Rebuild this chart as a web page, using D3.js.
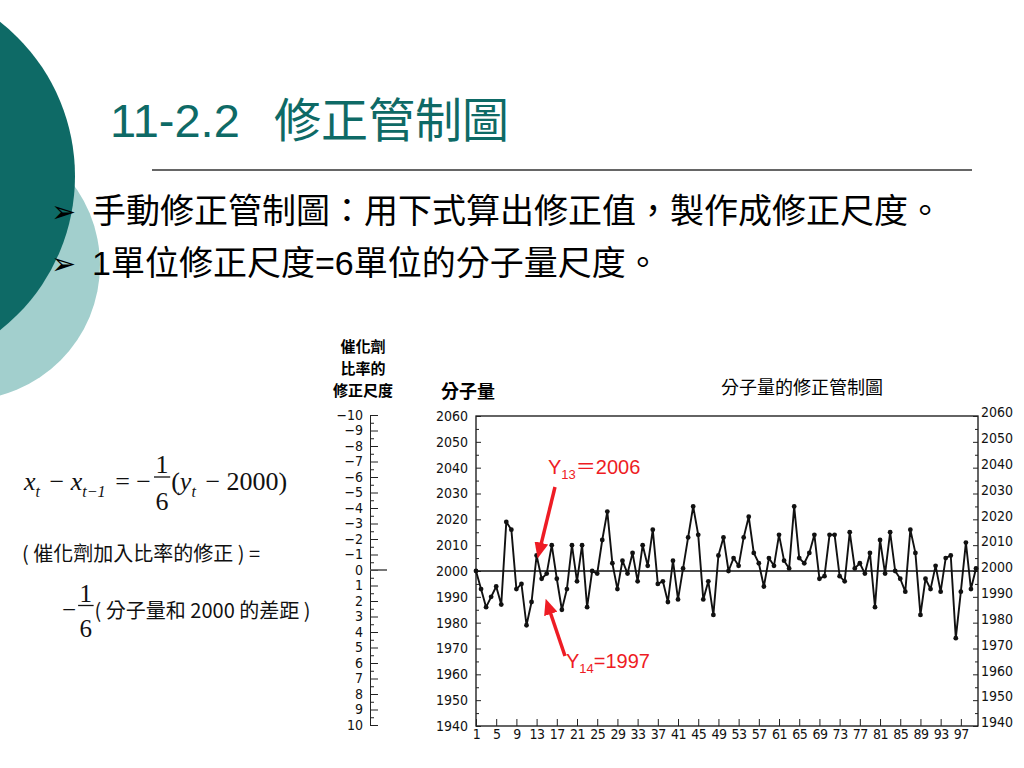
<!DOCTYPE html>
<html>
<head>
<meta charset="utf-8">
<script src="https://cdn.jsdelivr.net/npm/d3@7"></script>
<style>
  body { margin: 0; background: #fff; }
  svg { display: block; font-family: 'Liberation Sans', Arial, sans-serif; }
  text { white-space: pre; }
</style>
</head>
<body>
<svg id="slide" width="1024" height="768"></svg>
<script>
// molecular weight, samples 1..100
const molecularWeight = [
    2000, 1993, 1986, 1990, 1994, 1987, 2019, 2016, 1993, 1995,
    1979, 1988, 2006, 1997, 1999, 2010, 1997, 1985, 1993, 2010,
    1996, 2010, 1986, 2000, 1999, 2012, 2023, 2003, 1993, 2004,
    1999, 2007, 1996, 2010, 2002, 2016, 1995, 1996, 1988, 2004,
    1989, 2001, 2013, 2025, 2014, 1989, 1996, 1983, 2006, 2013,
    2000, 2005, 2002, 2013, 2021, 2007, 2003, 1994, 2005, 2002,
    2014, 2004, 2001, 2025, 2005, 2003, 2007, 2014, 1997, 1998,
    2014, 2014, 1998, 1996, 2015, 2001, 2003, 1999, 2007, 1986,
    2012, 1999, 2015, 2000, 1997, 1992, 2016, 2007, 1983, 1997,
    1993, 2002, 1992, 2005, 2006, 1974, 1992, 2011, 1993, 2001
];
const target = 2000;

const sampleTicks = [1, 5, 9, 13, 17, 21, 25, 29, 33, 37, 41, 45, 49, 53, 57, 61, 65, 69, 73, 77, 81, 85, 89, 93, 97];
const weightTicks = [1940, 1950, 1960, 1970, 1980, 1990, 2000, 2010, 2020, 2030, 2040, 2050, 2060];
const weightMinor = [1945, 1955, 1965, 1975, 1985, 1995, 2005, 2015, 2025, 2035, 2045, 2055];
const adjustTicks = [-10, -9, -8, -7, -6, -5, -4, -3, -2, -1, 0, 1, 2, 3, 4, 5, 6, 7, 8, 9, 10];
const adjustMinor = [-9.5, -8.5, -7.5, -6.5, -5.5, -4.5, -3.5, -2.5, -1.5, -0.5, 0.5, 1.5, 2.5, 3.5, 4.5, 5.5, 6.5, 7.5, 8.5, 9.5];

const teal = '#0e6a66';
const red = '#ee1c24';
const cjk = "'Noto Sans CJK TC', sans-serif";

/* ===== chart config ===== */
const chart = {
    left: 476,
    right: 978,
    top: 416,
    bottom: 726,
    adjustAxisX: 370,

    x: d3.scaleLinear(),
    y: d3.scaleLinear(),
    adj: d3.scaleLinear()
};
chart.x.domain([1, 100]).range([476, 976]);
chart.y.domain([1940, 2060]).range([chart.bottom, chart.top]);
chart.adj.domain([-10, 10]).range([415, 725]);

const svg = d3.select('#slide');

/* ===== slide decoration ===== */
svg.append('circle').attr('cx', -35).attr('cy', 265).attr('r', 135).attr('fill', '#a2cfcd');
svg.append('circle').attr('cx', -121).attr('cy', 176).attr('r', 196).attr('fill', teal);

const title = svg.append('text')
    .attr('y', 137)
    .attr('fill', teal)
    .style('font-size', '47px');
title.append('tspan').attr('x', 110).text('11-2.2');
title.append('tspan').attr('x', 274).style('font-family', cjk).text('修正管制圖');

svg.append('line')
    .attr('x1', 152).attr('x2', 972)
    .attr('y1', 170).attr('y2', 170)
    .attr('stroke', '#333').attr('stroke-width', 1.5);

const bullets = [
    '手動修正管制圖：用下式算出修正值，製作成修正尺度。',
    '1單位修正尺度=6單位的分子量尺度。'
];
bullets.forEach((b, i) => {
    svg.append('text')
        .attr('x', 51).attr('y', 222 + i * 52)
        .style('font-family', "'DejaVu Sans'")
        .style('font-size', '30px')
        .text('➢');
    svg.append('text')
        .attr('x', 92).attr('y', 223 + i * 52)
        .style('font-family', "'Liberation Sans', 'Noto Sans CJK TC', sans-serif")
        .style('font-size', '34px')
        .text(b);
});

/* ===== formula on the left ===== */
function typeset(g, x0, base, parts, size) {
    let x = x0;
    parts.forEach(p => {
        if (p.frac) {
            const w = size * 0.7;
            const cx = x + w / 2;
            g.append('text').attr('x', cx).attr('y', base - size * 0.66)
                .attr('text-anchor', 'middle').style('font-size', size + 'px').text(p.frac[0]);
            g.append('line')
                .attr('x1', x + 1).attr('x2', x + w - 1)
                .attr('y1', base - size * 0.5).attr('y2', base - size * 0.5)
                .attr('stroke', '#111').attr('stroke-width', 1.3);
            g.append('text').attr('x', cx).attr('y', base + size * 0.75)
                .attr('text-anchor', 'middle').style('font-size', size + 'px').text(p.frac[1]);
            x += w;
            return;
        }
        const t = g.append('text')
            .attr('x', x)
            .attr('y', base + (p.sub ? size * 0.25 : 0))
            .style('font-size', (p.sub ? size * 0.62 : (p.size || size)) + 'px')
            .style('font-style', p.it ? 'italic' : 'normal')
            .text(p.t);
        if (p.cjk) t.style('font-family', cjk);
        x += t.node().getComputedTextLength() + (p.gap || 0);
    });
    return x;
}

const formula = svg.append('g')
    .style('font-family', "'Liberation Serif', 'Times New Roman', serif")
    .attr('fill', '#111');

typeset(formula, 24, 490, [
    { t: 'x', it: true }, { t: 't', it: true, sub: true, gap: 3 },
    { t: ' − ' }, { t: 'x', it: true }, { t: 't−1', it: true, sub: true, gap: 3 },
    { t: ' = −', gap: 2 }, { frac: ['1', '6'] },
    { t: '(' }, { t: 'y', it: true }, { t: 't', it: true, sub: true, gap: 3 },
    { t: ' − 2000)' }
], 26);

typeset(formula, 22, 561, [
    { t: '( 催化劑加入比率的修正 ) =', cjk: true, size: 20 }
], 20);

typeset(formula, 62, 618, [
    { t: '−', gap: 1 }, { frac: ['1', '6'] },
    { t: '( 分子量和 2000 的差距 )', cjk: true, size: 20 }
], 25);

/* ===== adjustment scale (catalyst) ===== */
const adjG = svg.append('g').attr('transform', `translate(${chart.adjustAxisX},0)`);
adjG.call(d3.axisLeft(chart.adj).tickValues(adjustTicks).tickSize(-8).tickSizeOuter(0).tickPadding(7));
adjG.append('g')
    .call(d3.axisLeft(chart.adj).tickValues(adjustMinor).tickSize(-4).tickSizeOuter(0).tickFormat(''))
    .call(g => g.select('.domain').remove());
adjG.append('line')
    .attr('x1', 0).attr('x2', 17)
    .attr('y1', chart.adj(0)).attr('y2', chart.adj(0))
    .attr('stroke', '#555').attr('stroke-width', 1.6);

const header = ['催化劑', '比率的', '修正尺度'];
header.forEach((h, i) => {
    svg.append('text')
        .attr('x', 363).attr('y', 352 + i * 22)
        .attr('text-anchor', 'middle')
        .style('font-family', cjk)
        .style('font-size', '15px')
        .style('font-weight', 'bold')
        .text(h);
});

/* ===== molecular weight chart ===== */
const g = svg.append('g');
const fmt = d3.format('d');

g.append('rect')
    .attr('x', chart.left).attr('y', chart.top)
    .attr('width', chart.right - chart.left).attr('height', chart.bottom - chart.top)
    .attr('fill', 'none').attr('stroke', '#111').attr('stroke-width', 1.3);

g.append('g')
    .attr('transform', `translate(${chart.left},0)`)
    .call(d3.axisLeft(chart.y).tickValues(weightTicks).tickFormat(fmt).tickSize(-5).tickSizeOuter(0).tickPadding(8))
    .call(g => g.select('.domain').remove());
g.append('g')
    .attr('transform', `translate(${chart.left},0)`)
    .call(d3.axisLeft(chart.y).tickValues(weightMinor).tickSize(-3).tickSizeOuter(0).tickFormat(''))
    .call(g => g.select('.domain').remove());

g.append('g')
    .attr('class', 'right-axis')
    .attr('transform', `translate(${chart.right},0)`)
    .call(d3.axisRight(chart.y).tickValues(weightTicks).tickFormat(fmt).tickSize(-5).tickSizeOuter(0).tickPadding(3))
    .call(g => g.select('.domain').remove())
    .call(g => g.selectAll('text').attr('dy', '0.05em'));
g.append('g')
    .attr('transform', `translate(${chart.right},0)`)
    .call(d3.axisRight(chart.y).tickValues(weightMinor).tickSize(-3).tickSizeOuter(0).tickFormat(''))
    .call(g => g.select('.domain').remove());

g.append('g')
    .attr('transform', `translate(0,${chart.bottom})`)
    .call(d3.axisBottom(chart.x).tickValues(sampleTicks).tickFormat(fmt).tickSize(-7).tickSizeOuter(0).tickPadding(3))
    .call(g => g.select('.domain').remove())
    .call(g => g.selectAll('text').attr('letter-spacing', '-0.5px'));

// axis text look
svg.selectAll('.tick text')
    .attr('fill', '#111')
    .style('font-family', "'DejaVu Sans Condensed', 'DejaVu Sans', sans-serif")
    .style('font-size', '14px');
svg.selectAll('.tick line').attr('stroke', '#222');
adjG.select('.domain').attr('stroke', '#222');

svg.append('text')
    .attr('x', 441).attr('y', 398)
    .style('font-family', cjk).style('font-size', '18px').style('font-weight', 'bold')
    .text('分子量');
svg.append('text')
    .attr('x', 802).attr('y', 394)
    .attr('text-anchor', 'middle')
    .style('font-family', cjk).style('font-size', '18px')
    .text('分子量的修正管制圖');

// target line
g.append('line')
    .attr('x1', chart.left).attr('x2', chart.right)
    .attr('y1', chart.y(target)).attr('y2', chart.y(target))
    .attr('stroke', '#111').attr('stroke-width', 1.6);

const line = d3.line()
    .x((d, i) => chart.x(i + 1))
    .y(d => chart.y(d));

g.append('path')
    .datum(molecularWeight)
    .attr('d', line)
    .attr('fill', 'none')
    .attr('stroke', '#111')
    .attr('stroke-width', 1.9)
    .attr('stroke-linejoin', 'round');

g.selectAll('.pt')
    .data(molecularWeight)
    .enter().append('circle')
    .attr('class', 'pt')
    .attr('cx', (d, i) => chart.x(i + 1))
    .attr('cy', d => chart.y(d))
    .attr('r', 2.4)
    .attr('fill', '#111');

/* ===== red callouts ===== */
svg.append('defs').append('marker')
    .attr('id', 'head')
    .attr('markerUnits', 'userSpaceOnUse')
    .attr('markerWidth', 16).attr('markerHeight', 14)
    .attr('refX', 2).attr('refY', 7)
    .attr('orient', 'auto')
    .append('path')
    .attr('d', 'M0,0 L16,7 L0,14 z')
    .attr('fill', red);

function arrow(x1, y1, x2, y2) {
    const len = Math.hypot(x2 - x1, y2 - y1);
    const k = (len - 14) / len;
    svg.append('line')
        .attr('x1', x1).attr('y1', y1)
        .attr('x2', x1 + (x2 - x1) * k).attr('y2', y1 + (y2 - y1) * k)
        .attr('stroke', red).attr('stroke-width', 3.5)
        .attr('marker-end', 'url(#head)');
}

function callout(x, y, sub, rest) {
    const t = svg.append('text')
        .attr('x', x).attr('y', y)
        .attr('fill', red)
        .style('font-size', '20px');
    t.append('tspan').text('Y');
    t.append('tspan').attr('dy', 5).style('font-size', '13px').text(sub);
    t.append('tspan').attr('dy', -5).style('font-family', "'Liberation Sans', 'Noto Sans CJK TC', sans-serif").text(rest);
}

callout(548, 474, '13', '＝2006');
arrow(555, 487, chart.x(13) + 1, chart.y(molecularWeight[12]) + 3);

callout(566, 668, '14', '=1997');
arrow(565, 656, chart.x(14) + 4, chart.y(molecularWeight[13]) + 20);
</script>
</body>
</html>
